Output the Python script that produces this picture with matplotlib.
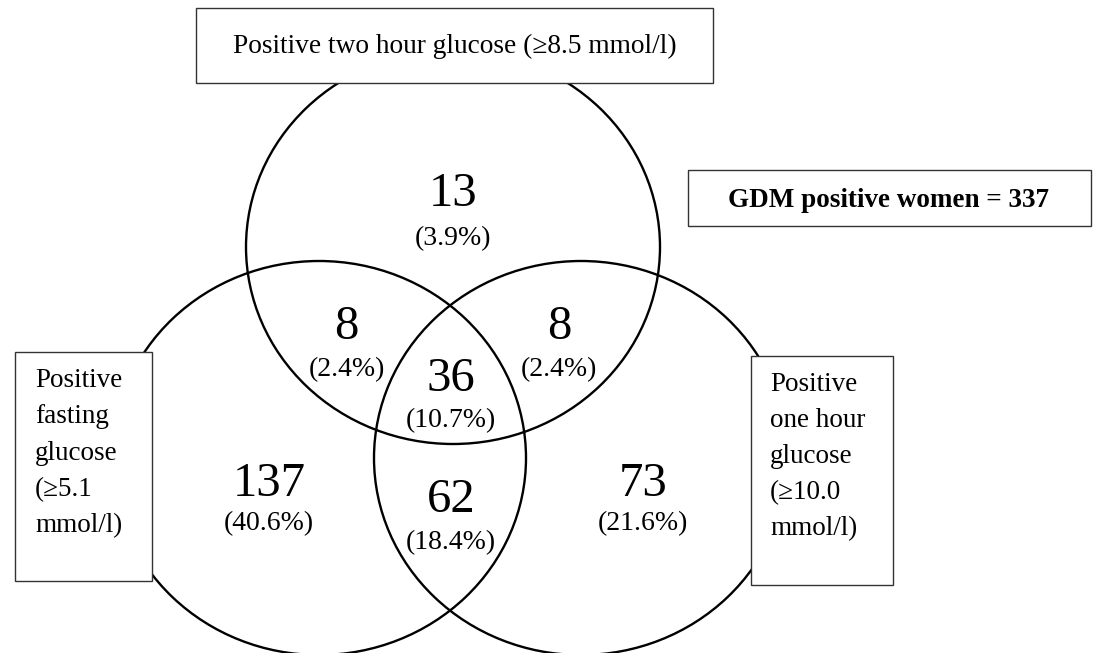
import matplotlib.pyplot as plt
from matplotlib.patches import Ellipse, Rectangle

# Data
counts = [13, 8, 8, 36, 137, 62, 73]
percents = [3.9, 2.4, 2.4, 10.7, 40.6, 18.4, 21.6]
top_label = "Positive two hour glucose (\u22658.5 mmol/l)"
left_label = ["Positive", "fasting", "glucose", "(\u22655.1", "mmol/l)"]
right_label = ["Positive", "one hour", "glucose", "(\u226510.0", "mmol/l)"]
total_label = "GDM positive women = 337"

# Layout (pixel coordinates, y downwards)
num_pos = [(453, 206), (346, 339), (559, 339), (451, 391), (269, 496), (451, 512), (643, 496)]
pct_pos = [(453, 245), (347, 376), (559, 376), (451, 427), (269, 530), (451, 549), (643, 530)]
circles = [(453, 247), (319, 458), (581, 458)]

fam = ['Liberation Serif', 'DejaVu Serif']

fig = plt.figure(figsize=(10.94, 6.53), dpi=100)
ax = fig.add_axes([0, 0, 1, 1])
ax.set_xlim(0, 1094)
ax.set_ylim(653, 0)
ax.axis('off')

for cx, cy in circles:
    ax.add_patch(Ellipse((cx, cy), 414, 394, fill=False, edgecolor='black',
                         linewidth=1.7, zorder=1))

for n, (x, y) in zip(counts, num_pos):
    ax.text(x, y, str(n), fontsize=35, family=fam, ha='center', va='baseline')
for p, (x, y) in zip(percents, pct_pos):
    ax.text(x, y, f"({p:.1f}%)", fontsize=20, family=fam, ha='center', va='baseline')

# Label boxes
boxes = [(196, 8, 517, 75), (688, 170, 403, 56), (15, 352, 137, 229), (751, 356, 142, 229)]
for x, y, w, h in boxes:
    ax.add_patch(Rectangle((x, y), w, h, facecolor='white', edgecolor='#333333',
                           linewidth=1.0, zorder=3))

ax.text(454.5, 53, top_label, fontsize=19.7, family=fam, ha='center', va='baseline', zorder=4)
ax.text(889, 207, total_label, fontsize=19.5, family=fam, fontweight='bold',
        ha='center', va='baseline', zorder=4)
for i, line in enumerate(left_label):
    ax.text(35, 387 + i * 36.3, line, fontsize=19.5, family=fam, va='baseline', zorder=4)
for i, line in enumerate(right_label):
    ax.text(770, 391 + i * 36.0, line, fontsize=19.5, family=fam, va='baseline', zorder=4)

plt.savefig("out.png", dpi=100)
